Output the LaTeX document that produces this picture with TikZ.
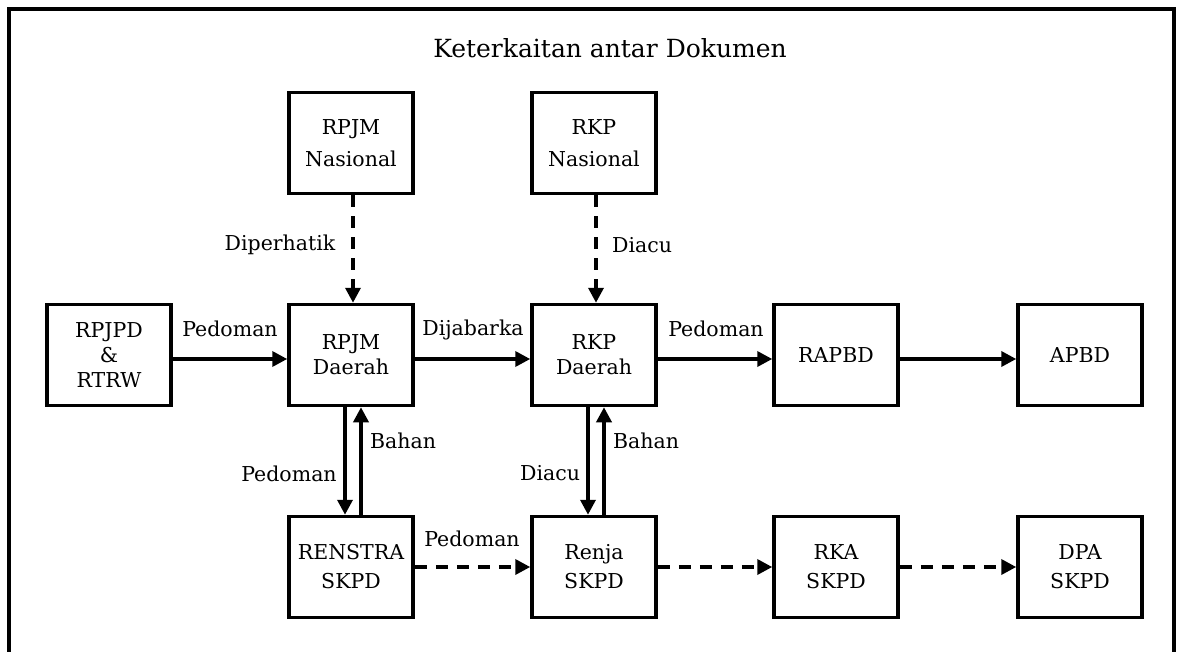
\documentclass[tikz,border=0pt]{standalone}
\usepackage{fontspec}
\setmainfont{DejaVu Serif}
\usetikzlibrary{arrows.meta}
\begin{document}
\begin{tikzpicture}[x=1pt,y=-1pt,
  box/.style={draw, line width=3.5pt, minimum width=124pt, minimum height=101pt, align=center, inner sep=0pt, font=\fontsize{20.5}{25}\selectfont},
  topbox/.style={box, font=\fontsize{20.5}{32}\selectfont},
  lowbox/.style={box, font=\fontsize{20.5}{29}\selectfont},
  lbl/.style={font=\fontsize{20.5}{22}\selectfont, inner sep=0pt},
  arr/.style={line width=3.5pt, -{Triangle[length=15pt,width=15pt]}},
  darr/.style={arr, dash pattern=on 12pt off 9pt}]
\useasboundingbox (0,0) rectangle (1177,652);
\draw[line width=3.5pt] (9,652) -- (9,9) -- (1174,9) -- (1174,652);
\node[font=\fontsize{25}{30}\selectfont] (title) at (610,48) {Keterkaitan antar Dokumen};
% row 1
\node[topbox] (rpjmn) at (351,143) {RPJM\\Nasional};
\node[topbox] (rkpn) at (594,143) {RKP\\Nasional};
% row 2
\node[box] (rpjpd) at (109,355) {RPJPD\\\&\\RTRW};
\node[box] (rpjmd) at (351,355) {RPJM\\Daerah};
\node[box] (rkpd) at (594,355) {RKP\\Daerah};
\node[box] (rapbd) at (836,355) {RAPBD};
\node[box] (apbd) at (1080,355) {APBD};
% row 3
\node[lowbox] (renstra) at (351,567) {RENSTRA\\SKPD};
\node[lowbox] (renja) at (594,567) {Renja\\SKPD};
\node[lowbox] (rka) at (836,567) {RKA\\SKPD};
\node[lowbox] (dpa) at (1080,567) {DPA\\SKPD};
% arrows
\draw[darr] ([xshift=2pt]rpjmn.south) -- ([xshift=2pt]rpjmd.north);
\draw[darr] ([xshift=2pt]rkpn.south) -- ([xshift=2pt]rkpd.north);
\draw[arr] ([yshift=-4pt]rpjpd.east) -- ([yshift=-4pt]rpjmd.west);
\draw[arr] ([yshift=-4pt]rpjmd.east) -- ([yshift=-4pt]rkpd.west);
\draw[arr] ([yshift=-4pt]rkpd.east) -- ([yshift=-4pt]rapbd.west);
\draw[arr] ([yshift=-4pt]rapbd.east) -- ([yshift=-4pt]apbd.west);
\draw[arr] ([xshift=-6pt]rpjmd.south) -- ([xshift=-6pt]renstra.north);
\draw[arr] ([xshift=10pt]renstra.north) -- ([xshift=10pt]rpjmd.south);
\draw[arr] ([xshift=-6pt]rkpd.south) -- ([xshift=-6pt]renja.north);
\draw[arr] ([xshift=10pt]renja.north) -- ([xshift=10pt]rkpd.south);
\draw[darr] (renstra) -- (renja);
\draw[darr] (renja) -- (rka);
\draw[darr] (rka) -- (dpa);
% labels
\node[lbl] (l1) at (280,245) {Diperhatik};
\node[lbl] (l2) at (642,245) {Diacu};
\node[lbl] (l3) at (230,329) {Pedoman};
\node[lbl] (l4) at (473,330) {Dijabarka};
\node[lbl] (l5) at (716,329) {Pedoman};
\node[lbl] (l6) at (403,441) {Bahan};
\node[lbl] (l7) at (289,474) {Pedoman};
\node[lbl] (l8) at (550,473) {Diacu};
\node[lbl] (l9) at (646,441) {Bahan};
\node[lbl] (l10) at (472,539) {Pedoman};
\end{tikzpicture}
\end{document}
